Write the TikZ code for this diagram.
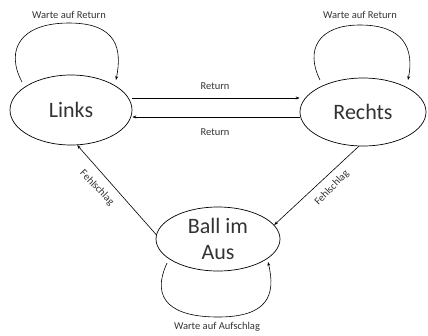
\documentclass[tikz,border=0pt]{standalone}
\usepackage{fontspec}
\setmainfont{Carlito}
\usetikzlibrary{arrows.meta,shapes.geometric}
\begin{document}
\begin{tikzpicture}[x=1pt,y=-1pt,
  state/.style={ellipse,draw,line width=0.7pt,inner sep=0pt,font=\fontsize{22}{25}\selectfont,text=black!80},
  lbl/.style={font=\fontsize{10.5}{12}\selectfont,text=black!80,inner sep=0pt},
  conn/.style={line width=0.6pt,-{Stealth[length=4pt,width=3pt]}}]
\useasboundingbox (0,0) rectangle (428,335);
\node[state,minimum width=122pt,minimum height=70pt] (L) at (71,110) {Links};
\node[state,minimum width=126pt,minimum height=68pt] (R) at (363,112) {Rechts};
\node[state,minimum width=124pt,minimum height=64pt,align=center] (B) at (218,239) {Ball im\\[1pt]Aus};
% Links <-> Rechts
\draw[conn] (L.east |- 0,98) -- (R.west |- 0,98);
\draw[conn] (R.west |- 0,117) -- (L.east |- 0,117);
\node[lbl] (ret1) at (215,86) {Return};
\node[lbl] (ret2) at (215,132) {Return};
% Fehlschlag
\draw[conn] (R.-97) -- (B.14);
\draw[conn] (B.176) -- (L.-80);
\node[lbl,rotate=46] (f1) at (332,188) {Fehlschlag};
\node[lbl,rotate=-46] (f2) at (97,188) {Fehlschlag};
% loops
\coordinate (l1) at (22,82);
\coordinate (l2) at (116,80);
\draw[conn] (l1) .. controls (5,50) and (20,23) .. (69,23) .. controls (118,23) and (122,50) .. (l2);
\node[lbl] (wl) at (69,15) {Warte auf Return};
\coordinate (r1) at (320,80);
\coordinate (r2) at (408,80);
\draw[conn] (r1) .. controls (305,50) and (318,25) .. (360,25) .. controls (405,25) and (414,50) .. (r2);
\node[lbl] (wr) at (360,15) {Warte auf Return};
\coordinate (b1) at (167,263);
\coordinate (b2) at (268,262);
\draw[conn] (b1) .. controls (150,300) and (172,317) .. (218,317) .. controls (268,317) and (276,295) .. (b2);
\node[lbl] (wb) at (217,327) {Warte auf Aufschlag};
\end{tikzpicture}
\end{document}
